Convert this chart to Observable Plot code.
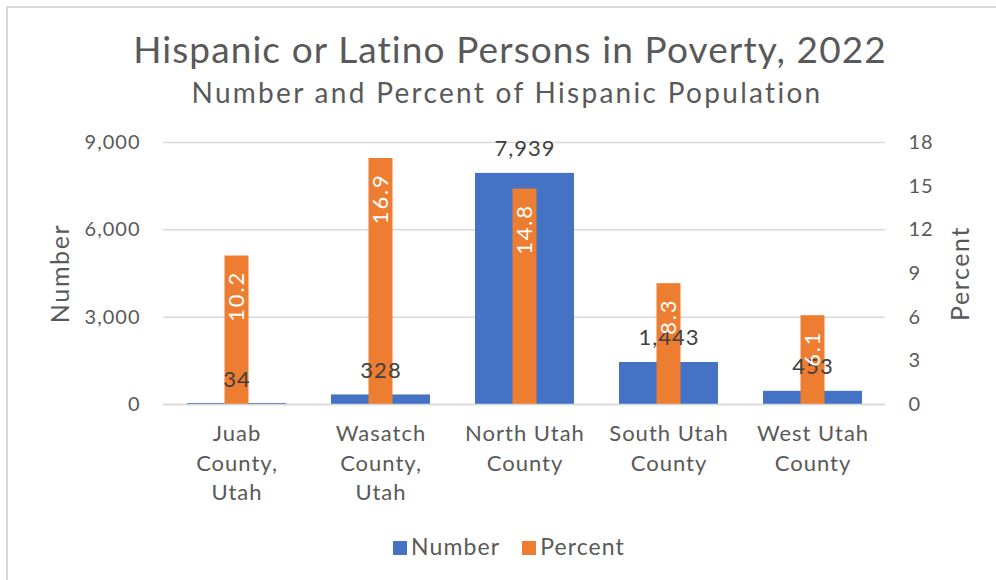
<!DOCTYPE html>
<html>
<head>
<meta charset="utf-8">
<script src="https://cdn.jsdelivr.net/npm/d3@7"></script>
<script src="https://cdn.jsdelivr.net/npm/@observablehq/plot@0.6"></script>
<style>
  html, body { margin: 0; padding: 0; background: #fff; }
  #wrap { position: relative; width: 996px; height: 580px; overflow: hidden; font-family: "Lato", "DejaVu Sans", sans-serif; color: #595959; }
  #frame { position: absolute; left: 6px; top: 6px; width: 1100px; height: 700px; border-left: 2px solid #d9d9d9; border-top: 2px solid #d9d9d9; box-sizing: border-box; }
  #title { position: absolute; left: 0; width: 1020px; top: 27px; text-align: center; font-size: 37px; line-height: 44px; letter-spacing: 1.1px; }
  #subtitle { position: absolute; left: 0; width: 1014px; top: 73px; text-align: center; font-size: 28px; line-height: 38px; letter-spacing: 2.3px; }
  #chart { position: absolute; left: 0; top: 115px; }
  #legend { position: absolute; left: 0; width: 1018px; top: 531px; text-align: center; font-size: 23px; line-height: 30px; letter-spacing: 1.1px; }
  .sw { display: inline-block; width: 14px; height: 14px; margin-right: 4px; vertical-align: 0px; }
  .item { margin: 0 11px; }
</style>
</head>
<body>
<div id="wrap">
  <div id="frame"></div>
  <div id="title">Hispanic or Latino Persons in Poverty, 2022</div>
  <div id="subtitle">Number and Percent of Hispanic Population</div>
  <div id="chart"></div>
  <div id="legend"></div>
</div>
<script>
const categories = ["Juab\nCounty,\nUtah", "Wasatch\nCounty,\nUtah", "North Utah\nCounty", "South Utah\nCounty", "West Utah\nCounty"];
const numberValues = [34, 328, 7939, 1443, 453];
const percentValues = [10.2, 16.9, 14.8, 8.3, 6.1];
const numberTicks = [0, 3000, 6000, 9000];
const percentTicks = [0, 3, 6, 9, 12, 15, 18];
const seriesNames = ["Number", "Percent"];
const seriesColors = ["#4472C4", "#ED7D31"];

const numberMax = 9000, percentMax = 18;
const k = numberMax / percentMax;

const data = categories.map((c, i) => ({cat: c, number: numberValues[i], percent: percentValues[i]}));

const plot = Plot.plot({
  width: 996,
  height: 405,
  marginLeft: 163,
  marginRight: 111,
  marginTop: 27,
  marginBottom: 116,
  style: {fontFamily: '"Lato", "DejaVu Sans", sans-serif', color: "#595959", background: "transparent", letterSpacing: "1px"},
  x: {domain: categories, paddingInner: 0.314, paddingOuter: 0.157, label: null},
  y: {domain: [0, numberMax], label: null},
  marks: [
    Plot.gridY(numberTicks, {stroke: "#d9d9d9", strokeOpacity: 1, strokeWidth: 1.5}),
    Plot.axisY({ticks: numberTicks, tickSize: 0, tickPadding: 23, fontSize: 20, tickFormat: d3.format(","),
      label: "Number", labelAnchor: "center", labelArrow: "none", labelOffset: 112}),
    Plot.axisY({anchor: "right", ticks: percentTicks.map(t => t * k), tickSize: 0, tickPadding: 23, fontSize: 20,
      tickFormat: d => d / k, label: "Percent", labelAnchor: "center", labelArrow: "none", labelOffset: 83}),
    Plot.axisX({tickSize: 0, tickPadding: 16, fontSize: 22, lineHeight: 1.33, label: null}),
    Plot.barY(data, {x: "cat", y: "number", fill: seriesColors[0]}),
    Plot.barY(data, {x: "cat", y: d => d.percent * k, fill: seriesColors[1], insetLeft: 37.5, insetRight: 37.5}),
    Plot.text(data, {x: "cat", y: "number", text: d => d3.format(",")(d.number), dy: -17, lineAnchor: "bottom", fontSize: 22, fill: "#404040"}),
    Plot.text(data, {x: "cat", y: d => d.percent * k, text: d => d.percent.toFixed(1), rotate: -90, textAnchor: "end", dy: 15, fontSize: 22, fill: "#ffffff"}),
    Plot.ruleY([0], {stroke: "#d9d9d9", strokeWidth: 1.5})
  ]
});
plot.querySelectorAll('g[aria-label="y-axis label"]').forEach(e => { e.setAttribute("font-size", "25"); });
plot.querySelectorAll('g[aria-label="y-axis label"] text').forEach(e => { e.setAttribute("font-size", "25"); e.style.letterSpacing = "1.6px"; });
const textGroups = plot.querySelectorAll('g[aria-label="text"]');
if (textGroups[1]) textGroups[1].style.letterSpacing = "1.8px";
document.getElementById("chart").appendChild(plot);

document.getElementById("legend").innerHTML = seriesNames.map((n, i) =>
  `<span class="item"><span class="sw" style="background:${seriesColors[i]}"></span>${n}</span>`).join("");
</script>
</body>
</html>
